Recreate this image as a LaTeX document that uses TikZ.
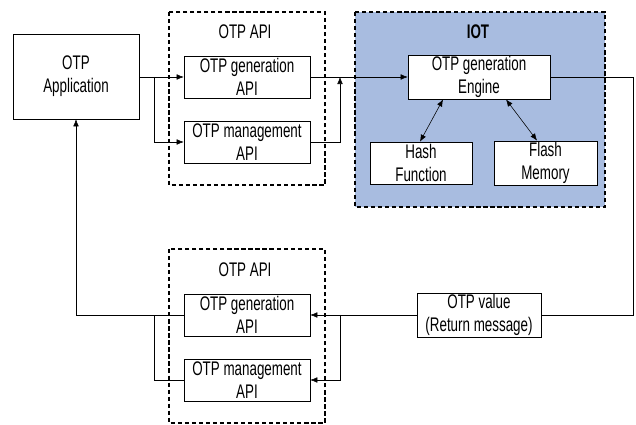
\documentclass[tikz,border=0pt]{standalone}
\usepackage{fontspec}
\setmainfont[FakeStretch=0.68]{Liberation Sans}
\usetikzlibrary{arrows.meta}

\definecolor{iotblue}{RGB}{168,188,224}

\tikzset{
    box/.style={draw, thin, fill=white, align=center, inner sep=1pt,
        minimum width=3.15cm, minimum height=1.05cm,
        font=\fontsize{14}{16.5}\selectfont},
    group/.style={draw, line width=1.5pt, dash pattern=on 3pt off 2pt},
    grouplabel/.style={font=\fontsize{14}{16.5}\selectfont},
    conn/.style={thin, -{Latex[length=5pt,width=4pt]}},
    plain/.style={thin}
}

\begin{document}
\begin{tikzpicture}
    \useasboundingbox (0,0) rectangle (15.9,10.625);

    % Group frames
    \draw[group] (4.225,10.325) rectangle (8.125,6.0);
    \draw[group, fill=iotblue] (8.875,10.325) rectangle (15.125,5.45);
    \draw[group] (4.225,4.4) rectangle (8.125,0.05);
    \node[grouplabel] (apilabel) at (6.125,9.825) {OTP API};
    \node[grouplabel, font=\fontsize{14}{16.5}\selectfont\bfseries] (iotlabel) at (11.95,9.825) {IOT};
    \node[grouplabel] (retlabel) at (6.125,3.875) {OTP API};

    % Blocks
    \node[box, minimum height=2.125cm] (app) at (1.9,8.7125) {OTP\\Application};
    \node[box] (apigen) at (6.175,8.7) {OTP generation\\API};
    \node[box] (apimgmt) at (6.175,7.075) {OTP management\\API};
    \node[box, minimum width=3.55cm] (engine) at (11.975,8.7) {OTP generation\\Engine};
    \node[box, minimum width=2.55cm] (hash) at (10.525,6.55) {Hash\\Function};
    \node[box, minimum width=2.575cm] (flash) at (13.6375,6.55) {Flash\\Memory};
    \node[box, minimum width=3.1cm] (otpvalue) at (11.975,2.75) {OTP value\\(Return message)};
    \node[box] (retgen) at (6.175,2.75) {OTP generation\\API};
    \node[box] (retmgmt) at (6.175,1.125) {OTP management\\API};

    % Branch points
    \coordinate (split1) at (3.85,8.7);
    \coordinate (join1) at (8.5,8.7);
    \coordinate (turn) at (15.825,8.7);
    \coordinate (split2) at (8.5,2.75);
    \coordinate (join2) at (3.85,2.75);

    % Request path
    \draw[conn] (app.east |- split1) -- (apigen.west);
    \draw[conn] (split1) |- (apimgmt.west);
    \draw[conn] (apigen.east) -- (engine.west);
    \draw[conn] (apimgmt.east) -| (join1);

    % Inside IOT
    \draw[conn, {Latex[length=5pt,width=4pt]}-{Latex[length=5pt,width=4pt]}] (engine.south -| 11.075,0) -- (hash.north -| 10.5,0);
    \draw[conn, {Latex[length=5pt,width=4pt]}-{Latex[length=5pt,width=4pt]}] (engine.south -| 12.65,0) -- (flash.north -| 13.425,0);

    % Return path
    \draw[plain] (engine.east) -- (turn) |- (otpvalue.east);
    \draw[conn] (otpvalue.west) -- (retgen.east);
    \draw[conn] (split2) |- (retmgmt.east);
    \draw[conn] (retgen.west) -| (app.south);
    \draw[plain] (retmgmt.west) -| (join2);
\end{tikzpicture}
\end{document}
